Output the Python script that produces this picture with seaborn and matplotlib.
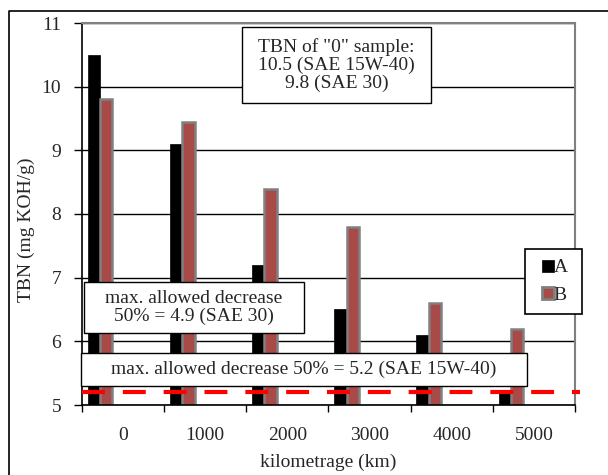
import matplotlib
matplotlib.use("Agg")
import matplotlib.pyplot as plt
import seaborn as sns
import pandas as pd
from matplotlib.patches import Rectangle
from matplotlib.lines import Line2D
from matplotlib.ticker import FixedLocator

# ---- data ----
km_labels = ["0", "1000", "2000", "3000", "4000", "5000"]
tbn_A = [10.5, 9.1, 7.2, 6.5, 6.1, 5.2]
tbn_B = [9.8, 9.45, 8.4, 7.8, 6.6, 6.2]
series = ["A", "B"]
limit_15w40 = 5.2
yticks = [5, 6, 7, 8, 9, 10, 11]

df = pd.DataFrame({
    "km": km_labels * 2,
    "TBN": tbn_A + tbn_B,
    "oil": ["A"] * len(km_labels) + ["B"] * len(km_labels),
})

sns.set_style("white")
plt.rcParams["font.family"] = ["Liberation Serif", "DejaVu Serif"]

fig = plt.figure(figsize=(6.08, 4.75), dpi=100)
ax = fig.add_axes([82/608, 1-405/475, 493/608, 382/475])

colors = {"A": "#000000", "B": "#a84a47"}
sns.barplot(data=df, x="km", y="TBN", hue="oil", order=km_labels,
            hue_order=series, palette=colors, width=0.3, dodge=True,
            saturation=1, ax=ax, legend=False, zorder=2)

for p in ax.patches:
    fc = p.get_facecolor()
    if fc[0] > 0.3:
        p.set_edgecolor("#808080")
        p.set_linewidth(1.8)
    else:
        p.set_edgecolor("#000000")
        p.set_linewidth(0.5)

off = 0.22
ax.set_xlim(-off, len(km_labels) - off)
ax.set_ylim(5, 11)
ax.set_yticks(yticks)
ax.set_xticks([i + 0.5 - off for i in range(len(km_labels))])
ax.set_xticklabels(km_labels)
ax.xaxis.set_minor_locator(FixedLocator([i - off for i in range(len(km_labels) + 1)]))
ax.tick_params(axis="x", which="major", length=0, pad=16, labelsize=14)
ax.tick_params(axis="x", which="minor", length=5, width=1, color="black", direction="out", bottom=True)
ax.tick_params(axis="y", which="major", length=6, width=1, color="black", direction="out", left=True, labelsize=14, pad=9)

ax.yaxis.grid(True, color="black", linewidth=1.0)
ax.set_axisbelow(True)
for s in ["left", "bottom"]:
    ax.spines[s].set_color("black")
    ax.spines[s].set_linewidth(1.2)
for s in ["top", "right"]:
    ax.spines[s].set_color("#808080")
    ax.spines[s].set_linewidth(1.5)

ax.axhline(limit_15w40, xmin=0, xmax=1.01, color="#ff0000", linewidth=3,
           dashes=(5.5, 4.3), zorder=4, clip_on=False)

ax.set_xlabel("kilometrage (km)", fontsize=14, labelpad=7)
ax.set_ylabel("TBN (mg KOH/g)", fontsize=14)
ax.yaxis.label.set_va("center")
ax.yaxis.set_label_coords(-0.112, 0.46)

def box(x0, y0, x1, y1, text):
    ax.add_patch(Rectangle((x0, y0), x1 - x0, y1 - y0, transform=ax.transAxes,
                           facecolor="white", edgecolor="black", linewidth=1,
                           zorder=5, clip_on=False))
    ax.text((x0 + x1) / 2, (y0 + y1) / 2, text, transform=ax.transAxes,
            ha="center", va="center", fontsize=14, zorder=6, linespacing=1.05)

box(0.325, 0.791, 0.708, 0.990, 'TBN of "0" sample:\n10.5 (SAE 15W-40)\n9.8 (SAE 30)')
box(0.004, 0.188, 0.450, 0.322, "max. allowed decrease\n50% = 4.9 (SAE 30)")
box(-0.002, 0.050, 0.903, 0.136, "max. allowed decrease 50% = 5.2 (SAE 15W-40)")

handles = [Line2D([], [], linestyle="none", marker="s", markersize=8.5,
                  markerfacecolor=colors["A"], markeredgecolor="black", markeredgewidth=0.5),
           Line2D([], [], linestyle="none", marker="s", markersize=8.0,
                  markerfacecolor=colors["B"], markeredgecolor="#808080", markeredgewidth=2.0)]
leg = ax.legend(handles, [s + " " for s in series], loc="upper left",
                bbox_to_anchor=(0.899, 0.408),
                fancybox=False, framealpha=1, edgecolor="black", fontsize=14,
                handlelength=1.3, handletextpad=-0.3,
                borderpad=0.5, labelspacing=0.5, borderaxespad=0)
leg.get_frame().set_linewidth(1.2)
leg.set_zorder(7)

fig.add_artist(Line2D([9/608, 9/608, 1], [0, 1-11/475, 1-11/475],
                      transform=fig.transFigure, color="black", linewidth=1.2))

fig.savefig("out.png", dpi=100)
